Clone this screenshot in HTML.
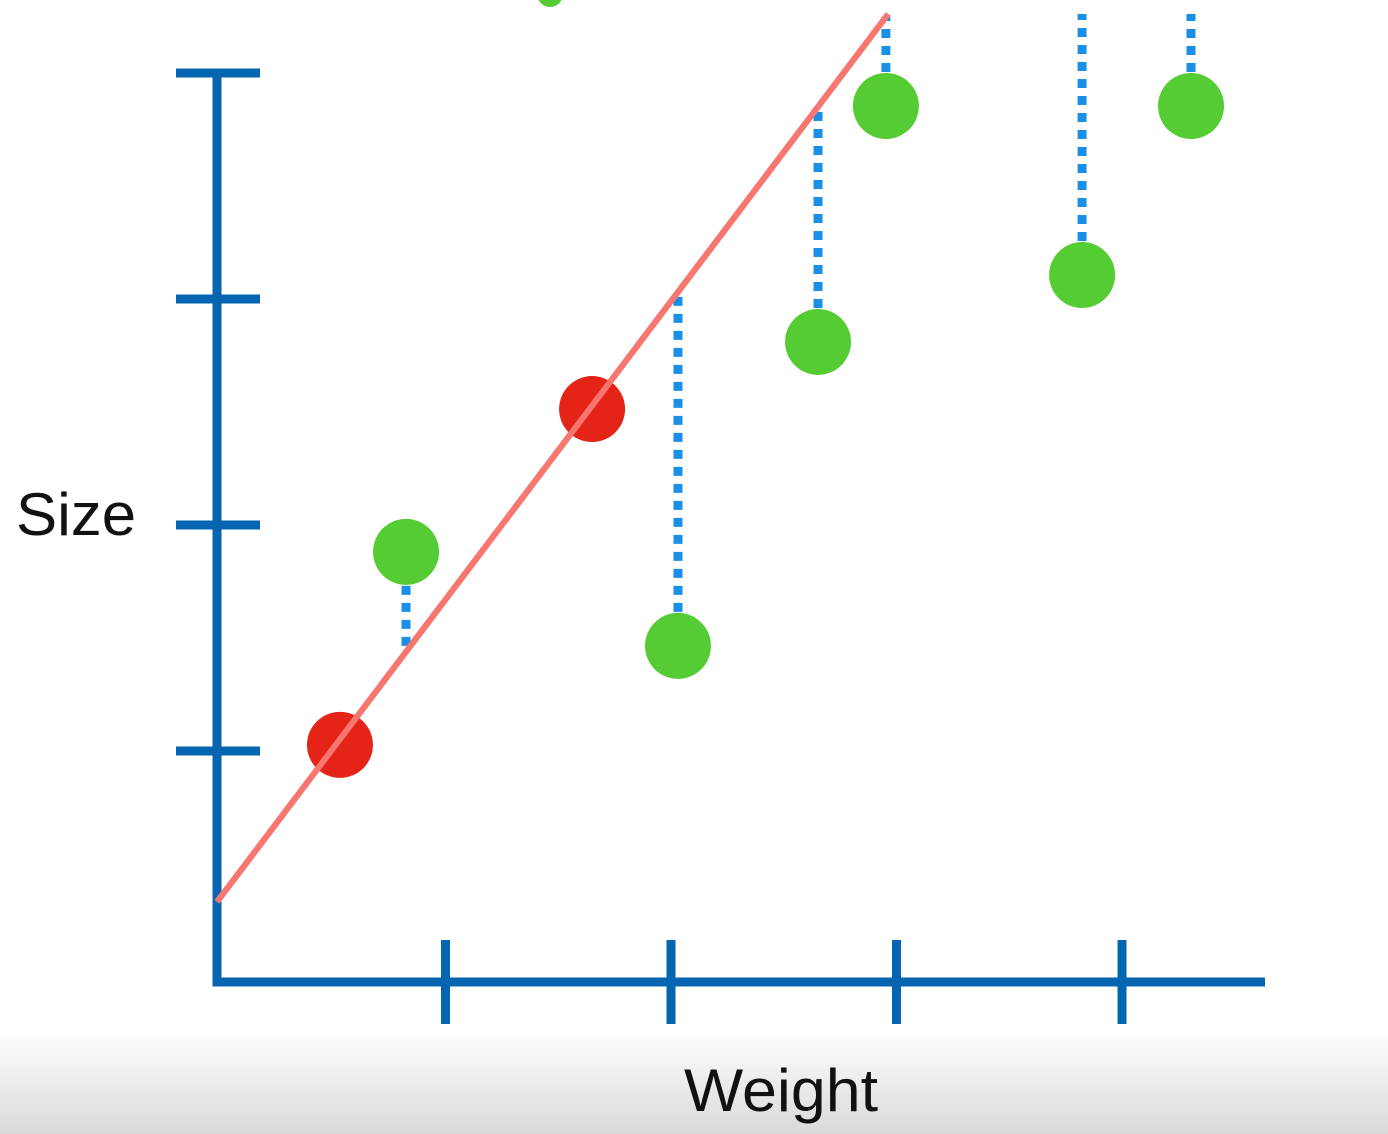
<!DOCTYPE html>
<html><head><meta charset="utf-8"><style>
html,body{margin:0;padding:0;width:1388px;height:1134px;overflow:hidden;background:#fff}
svg{display:block}
</style></head><body>
<svg id="chart" width="1388" height="1134" xmlns="http://www.w3.org/2000/svg">
<defs><linearGradient id="bg" x1="0" y1="0" x2="0" y2="1">
<stop offset="0" stop-color="#fff"/><stop offset="1" stop-color="#d9d9d9"/></linearGradient></defs>
<rect x="0" y="1030" width="1388" height="104" fill="url(#bg)"/>
<circle cx="550" cy="-6" r="13" fill="#55cc33"/>
<g id="resid"></g>
<g id="axes"></g>
<g id="marks"></g>
<text x="16" y="535" font-family="Liberation Sans, sans-serif" font-size="60" textLength="120" lengthAdjust="spacingAndGlyphs" fill="#111">Size</text>
<text x="684" y="1111" font-family="Liberation Sans, sans-serif" font-size="60" textLength="194" lengthAdjust="spacingAndGlyphs" fill="#111">Weight</text>
</svg>
<script>
const xTicks=[1,2,3,4];
const yTicks=[1,2,3,4];
const redX=[0.532,1.650];
const redY=[1.027,2.513];
const greenX=[0.825,2.031,2.652,2.953,3.823,4.306];
const greenY=[1.881,1.465,2.810,3.854,3.106,3.854];
const lineIntercept=0.35;
const lineSlope=1.32;

const NS='http://www.w3.org/2000/svg';
const X=v=>220+v*225.5;
const Y=v=>977-v*226;
function mk(tag,parent,a){const e=document.createElementNS(NS,tag);for(const k in a)e.setAttribute(k,a[k]);document.getElementById(parent).appendChild(e);return e;}
const TOP=14;
let e=mk('path','axes',{d:`M217 69 V982 H1265`,stroke:'#0565b0','stroke-width':9,fill:'none'});


xTicks.forEach(t=>{const el=mk('line','axes',{x1:X(t),x2:X(t),y1:940,y2:1024,stroke:'#0565b0','stroke-width':9});

});
yTicks.forEach(t=>{const el=mk('line','axes',{x1:176,x2:260,y1:Y(t),y2:Y(t),stroke:'#0565b0','stroke-width':9});

});
greenX.forEach((gx,i)=>{const ly=Math.max(TOP,Y(lineIntercept+lineSlope*gx));
const el=mk('line','resid',{x1:X(gx),x2:X(gx),y1:Y(greenY[i]),y2:ly,stroke:'#1a8fe8','stroke-width':9,'stroke-dasharray':'9 8'});

});
const xs=-3/225.5, xe=((977-TOP)/226-lineIntercept)/lineSlope;
const ln=mk('line','marks',{x1:X(xs),y1:Y(lineIntercept+lineSlope*xs),x2:X(xe),y2:Y(lineIntercept+lineSlope*xe),stroke:'#f87670','stroke-width':6});


greenX.forEach((gx,i)=>{const c=mk('circle','marks',{cx:X(gx),cy:Y(greenY[i]),r:33,fill:'#55cc33'});

});
redX.forEach((rx,i)=>{const c=mk('circle','marks',{cx:X(rx),cy:Y(redY[i]),r:33,fill:'#e32416'});

});
const ov=document.getElementById('marks').appendChild(ln.cloneNode());


</script>
</body></html>
